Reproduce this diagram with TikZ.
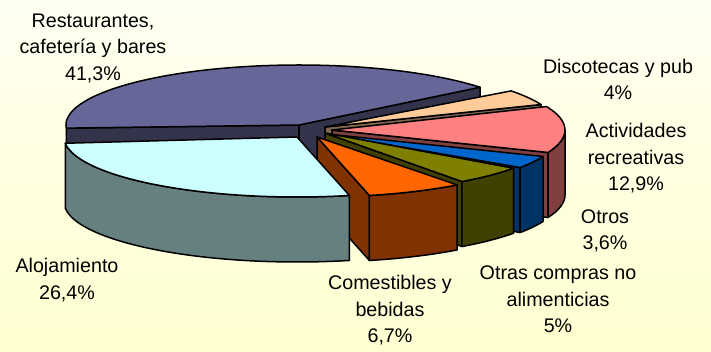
\documentclass[tikz,border=0pt]{standalone}
\usepackage{fontspec}
\setmainfont{Liberation Sans}
\usetikzlibrary{calc}

\definecolor{restTop}{HTML}{666699}
\definecolor{restSide}{HTML}{33334C}
\definecolor{alojTop}{HTML}{CCFFFF}
\definecolor{alojSide}{HTML}{668080}
\definecolor{comeTop}{HTML}{FF6600}
\definecolor{comeSide}{HTML}{803300}
\definecolor{otrasTop}{HTML}{808000}
\definecolor{otrasSide}{HTML}{404000}
\definecolor{otrosTop}{HTML}{0066CC}
\definecolor{otrosSide}{HTML}{003366}
\definecolor{actTop}{HTML}{FF8080}
\definecolor{actSide}{HTML}{804040}
\definecolor{discoTop}{HTML}{FFCC99}
\definecolor{discoSide}{HTML}{80664C}

\begin{document}
\begin{tikzpicture}[x=1pt, y=-1pt, line width=1.5pt, line join=round,
    lbl/.style={align=center, inner sep=0pt, font=\fontsize{19.7}{26.5}\selectfont}]
  \shade[top color={rgb,255:red,255;green,255;blue,242}, bottom color={rgb,255:red,255;green,255;blue,208}, draw=none]
    (0,0) rectangle (711,352);

  % slice apexes
  \coordinate (restA) at (299,125);
  \coordinate (discoA) at (325,127);
  \coordinate (actA) at (332,130);
  \coordinate (otrosA) at (327,134);
  \coordinate (otrasA) at (325,133);
  \coordinate (comeA) at (317,137);
  \coordinate (alojA) at (297,137);

  % restaurantes
  \draw[fill=restSide] (restA) -- ++(177:233 and 60) -- ++(0,65) -- ($(restA)+(0,65)$) -- cycle;
  \draw[fill=restSide] (restA) -- ++(321:233 and 60) -- ++(0,65) -- ($(restA)+(0,65)$) -- cycle;
  \draw[fill=restTop] (restA) -- ++(177:233 and 60) arc (177:321:233 and 60) -- cycle;

  % discotecas
  \draw[fill=discoSide] (discoA) -- ++(-22:233 and 60) -- ++(0,65) -- ($(discoA)+(0,65)$) -- cycle;
  \draw[fill=discoTop] (discoA) -- ++(-37:233 and 60) arc (-37:-22:233 and 60) -- cycle;

  % actividades
  \draw[fill=actSide] (actA) -- ++(22:233 and 60) -- ++(0,65) -- ($(actA)+(0,65)$) -- cycle;
  \draw[fill=actSide] ($(actA)+(0:233 and 60)$) arc (0:22:233 and 60) -- ++(0,65) arc (22:0:233 and 60) -- cycle;
  \draw[fill=actTop] (actA) -- ++(-23:233 and 60) arc (-23:22:233 and 60) -- cycle;

  % otros
  \draw[fill=otrosSide] (otrosA) -- ++(34:233 and 60) -- ++(0,65) -- ($(otrosA)+(0,65)$) -- cycle;
  \draw[fill=otrosSide] ($(otrosA)+(22:233 and 60)$) arc (22:34:233 and 60) -- ++(0,65) arc (34:22:233 and 60) -- cycle;
  \draw[fill=otrosTop] (otrosA) -- ++(22:233 and 60) arc (22:34:233 and 60) -- cycle;

  % otras compras
  \draw[fill=otrasSide] (otrasA) -- ++(54:233 and 60) -- ++(0,65) -- ($(otrasA)+(0,65)$) -- cycle;
  \draw[fill=otrasSide] ($(otrasA)+(36:233 and 60)$) arc (36:54:233 and 60) -- ++(0,65) arc (54:36:233 and 60) -- cycle;
  \draw[fill=otrasTop] (otrasA) -- ++(36:233 and 60) arc (36:54:233 and 60) -- cycle;

  % comestibles
  \draw[fill=comeSide] (comeA) -- ++(77:233 and 60) -- ++(0,65) -- ($(comeA)+(0,65)$) -- cycle;
  \draw[fill=comeSide] ($(comeA)+(53:233 and 60)$) arc (53:77:233 and 60) -- ++(0,65) arc (77:53:233 and 60) -- cycle;
  \draw[fill=comeTop] (comeA) -- ++(53:233 and 60) arc (53:77:233 and 60) -- cycle;

  % alojamiento
  \draw[fill=alojSide] ($(alojA)+(77:233 and 60)$) arc (77:174:233 and 60) -- ++(0,65) arc (174:77:233 and 60) -- cycle;
  \draw[fill=alojTop] (alojA) -- ++(77:233 and 60) arc (77:174:233 and 60) -- cycle;

  % labels
  \node[lbl] (restLbl) at (93,48) {Restaurantes,\\cafetería y bares\\41,3\%};
  \node[lbl] (discoLbl) at (618,79.5) {Discotecas y pub\\4\%};
  \node[lbl] (actLbl) at (636,158.5) {Actividades\\recreativas\\12,9\%};
  \node[lbl] (otrosLbl) at (605,231) {Otros\\3,6\%};
  \node[lbl] (otrasLbl) at (558,299.5) {Otras compras no\\alimenticias\\5\%};
  \node[lbl] (comeLbl) at (390,310.5) {Comestibles y\\bebidas\\6,7\%};
  \node[lbl] (alojLbl) at (67,280) {Alojamiento\\26,4\%};
\end{tikzpicture}
\end{document}
